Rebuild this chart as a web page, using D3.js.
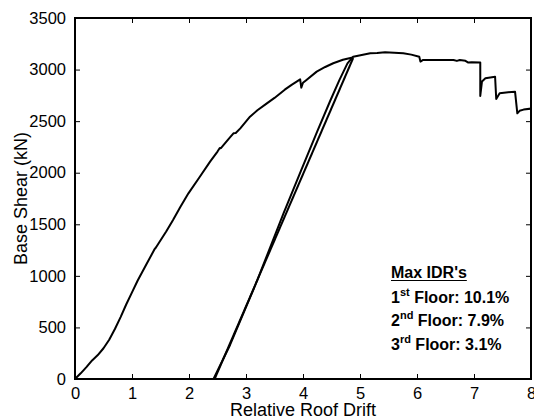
<!DOCTYPE html>
<html>
<head>
<meta charset="utf-8">
<script src="https://cdn.jsdelivr.net/npm/d3@7"></script>
<style>
  body { margin: 0; background: #fff; }
  text { font-family: "Liberation Sans", Arial, sans-serif; fill: #000; }
</style>
</head>
<body>
<svg id="chart" width="534" height="419"></svg>
<script>
// pushover curve up to the unloading point (drift, base shear kN)
var loading = [[0,0],[0.1,55],[0.2,115],[0.3,180],[0.4,232],[0.5,298],[0.6,380],[0.7,485],
  [0.8,600],[0.9,725],[1.0,840],[1.1,955],[1.26,1120],[1.4,1262],[1.42,1275],[1.58,1413],[1.6,1430],
  [1.72,1542],[1.85,1670],[1.99,1800],[2.19,1961],[2.37,2107],[2.5,2205],[2.54,2240],[2.56,2238],
  [2.7,2330],[2.78,2382],[2.82,2385],[2.9,2430],[3.07,2543],[3.2,2605],[3.36,2670],[3.5,2725],
  [3.68,2805],[3.8,2852],[3.95,2905],[3.97,2825],[4.0,2872],[4.05,2895],[4.24,2980],[4.39,3025],
  [4.53,3061],[4.7,3095],[4.85,3115],[4.88,3112]];
// unloading branch
var unloading = [[4.88,3112],[2.45,0]];
// reloading branch and the rest of the curve
var reloading = [[2.43,0],[2.72,330],[3.2,960],[3.66,1609],[3.98,2040],[4.25,2400],[4.48,2700],
  [4.64,2900],[4.78,3060],[4.88,3125],[5.03,3141],[5.18,3158],[5.3,3160],[5.44,3167],[5.6,3162],
  [5.76,3158],[5.9,3145],[6.04,3125],[6.06,3077],[6.1,3092],[6.3,3093],[6.64,3093],[6.7,3084],
  [6.75,3092],[6.85,3085],[6.9,3068],[6.96,3070],[7.11,3068],[7.11,2744],[7.14,2885],[7.2,2915],
  [7.37,2931],[7.39,2715],[7.45,2770],[7.6,2780],[7.72,2786],[7.76,2576],[7.8,2600],[7.87,2612],
  [8.05,2625]];

var xTicks = [0,1,2,3,4,5,6,7,8];
var yTicks = [0,500,1000,1500,2000,2500,3000,3500];
var legendTitle = "Max IDR's";
var legendRows = [["1","st"," Floor: 10.1%"],["2","nd"," Floor: 7.9%"],["3","rd"," Floor: 3.1%"]];

var svg = d3.select("#chart");
var mL = 75, mR = 531, mT = 18, mB = 379;

var x = d3.scaleLinear().domain([0, 8]).range([mL, mR]);
var y = d3.scaleLinear().domain([0, 3500]).range([mB, mT]);

svg.append("clipPath").attr("id", "clip")
  .append("rect").attr("x", mL).attr("y", mT).attr("width", mR - mL).attr("height", mB - mT);

var line = d3.line().x(d => x(d[0])).y(d => y(d[1]));
var g = svg.append("g").attr("clip-path", "url(#clip)");
[loading, unloading, reloading].forEach(function(s) {
  g.append("path").attr("d", line(s))
    .attr("fill", "none").attr("stroke", "#000")
    .attr("stroke-width", 2).attr("stroke-linejoin", "round");
});

// axes, ticks pointing inside like matlab
var tk = 5;
svg.append("g").attr("transform", "translate(0," + mB + ")")
  .call(d3.axisBottom(x).tickValues(xTicks).tickSizeInner(-tk).tickSizeOuter(0).tickPadding(8).tickFormat(d3.format("d")))
  .call(a => a.select(".domain").remove());
svg.append("g").attr("transform", "translate(0," + mT + ")")
  .call(d3.axisTop(x).tickValues(xTicks).tickSizeInner(-tk).tickSizeOuter(0).tickFormat(""))
  .call(a => a.select(".domain").remove());
svg.append("g").attr("transform", "translate(" + mL + ",0)")
  .call(d3.axisLeft(y).tickValues(yTicks).tickSizeInner(-tk).tickSizeOuter(0).tickPadding(9).tickFormat(d3.format("d")))
  .call(a => a.select(".domain").remove());
svg.append("g").attr("transform", "translate(" + mR + ",0)")
  .call(d3.axisRight(y).tickValues(yTicks).tickSizeInner(-tk).tickSizeOuter(0).tickFormat(""))
  .call(a => a.select(".domain").remove());

svg.selectAll(".tick text").attr("font-size", 16.5).attr("font-family", "Liberation Sans, Arial, sans-serif");
svg.selectAll(".tick line").attr("stroke-width", 1);

svg.append("rect").attr("x", mL).attr("y", mT).attr("width", mR - mL).attr("height", mB - mT)
  .attr("fill", "none").attr("stroke", "#000").attr("stroke-width", 2);

svg.append("text").attr("x", (mL + mR) / 2).attr("y", 416)
  .attr("text-anchor", "middle").attr("font-size", 18).text("Relative Roof Drift");
svg.append("text").attr("transform", "translate(27," + (mT + mB) / 2 + ") rotate(-90)")
  .attr("text-anchor", "middle").attr("font-size", 18).text("Base Shear (kN)");

// legend block
var lx = 391;
var t0 = svg.append("text").attr("x", lx).attr("y", 278).attr("font-size", 16)
  .attr("font-weight", "bold").text(legendTitle);
var w0 = t0.node().getComputedTextLength();
svg.append("line").attr("x1", lx).attr("x2", lx + w0).attr("y1", 280.5).attr("y2", 280.5)
  .attr("stroke", "#000").attr("stroke-width", 1.2);

legendRows.forEach(function(r, i) {
  var t = svg.append("text").attr("x", lx).attr("y", 302.5 + i * 23.5)
    .attr("font-size", 16).attr("font-weight", "bold");
  t.append("tspan").text(r[0]);
  t.append("tspan").attr("font-size", 11).attr("dy", -7).text(r[1]);
  t.append("tspan").attr("dy", 7).text(r[2]);
});
</script>
</body>
</html>
